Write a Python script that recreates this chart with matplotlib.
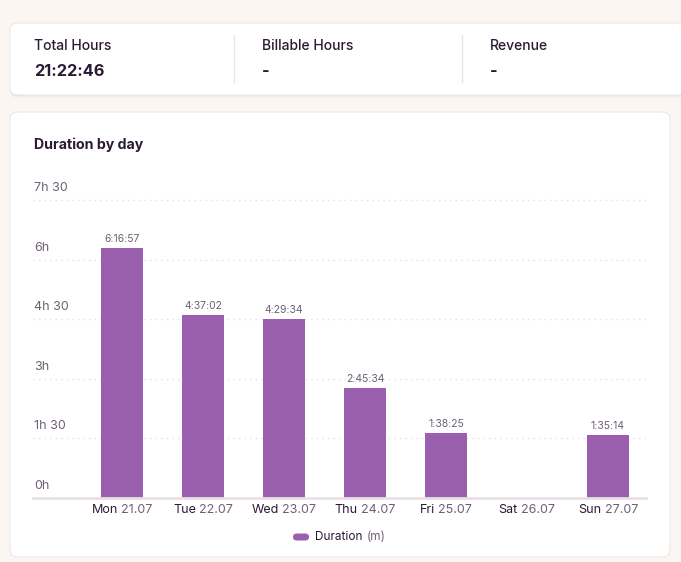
import matplotlib
matplotlib.use("Agg")
import matplotlib.pyplot as plt
from matplotlib.patches import FancyBboxPatch

plt.rcParams['font.family'] = ['Inter', 'DejaVu Sans']

# Data
days = ['Mon', 'Tue', 'Wed', 'Thu', 'Fri', 'Sat', 'Sun']
dates = ['21.07', '22.07', '23.07', '24.07', '25.07', '26.07', '27.07']
durations = ['6:16:57', '4:37:02', '4:29:34', '2:45:34', '1:38:25', '', '1:35:14']
minutes = [376.95, 277.03, 269.57, 165.57, 98.42, 0, 95.23]
ytick_vals = [0, 90, 180, 270, 360, 450]
ytick_labels = ['0h', '1h 30', '3h', '4h 30', '6h', '7h 30']
stat_titles = ['Total Hours', 'Billable Hours', 'Revenue']
stat_values = ['21:22:46', '-', '-']

W, H = 681, 562
bg = '#fcf6f3'
purple = '#9b5fb0'
dark = '#2b1a33'
gray = '#6e6073'

fig = plt.figure(figsize=(W / 100, H / 100), dpi=100, facecolor=bg)


def fx(px):
    return px / W


def fy(py):
    return 1 - py / H


# cards
def card(x0, y0, x1, y1, shadow=True):
    if shadow:
        for i, a in enumerate([0.05, 0.04, 0.03]):
            s = FancyBboxPatch((fx(x0), fy(y1 + 1 + i)), fx(x1 - x0), (y1 - y0) / H,
                               boxstyle='round,pad=0,rounding_size=0.012',
                               transform=fig.transFigure, facecolor='#7a6070',
                               alpha=a, edgecolor='none', zorder=-2)
            fig.patches.append(s)
    p = FancyBboxPatch((fx(x0), fy(y1)), fx(x1 - x0), (y1 - y0) / H,
                       boxstyle='round,pad=0,rounding_size=0.012',
                       transform=fig.transFigure, facecolor='white',
                       edgecolor='#eee6e6', linewidth=0.8, zorder=-1)
    fig.patches.append(p)


card(10, 23, 690, 95)
card(10, 112, 670, 557, shadow=False)

# stats row
for i, (t, v) in enumerate(zip(stat_titles, stat_values)):
    x = 34 + i * 228
    fig.text(fx(x), fy(46), t, fontsize=10, color=dark, fontweight='medium',
             va='center', ha='left')
    fig.text(fx(x), fy(72), v, fontsize=11.8, color=dark, fontweight='bold',
             va='center', ha='left')
for x in (234, 462):
    fig.add_artist(plt.Line2D([fx(x), fx(x)], [fy(35), fy(82)],
                              transform=fig.transFigure, color='#e8e2e4', lw=0.9))

fig.text(fx(34), fy(145), 'Duration by day', fontsize=10.2, color=dark,
         fontweight='bold', va='center', ha='left')

# chart axes
ax = fig.add_axes([fx(33), fy(498), fx(646 - 33), (498 - 200) / H])
ax.set_zorder(5)
ax.set_facecolor('none')
x = list(range(len(days)))
ax.bar(x, minutes, width=0.51, color=purple, zorder=3)
ax.set_xlim(-1.1, 6.47)
ax.set_ylim(0, 450)
for s in ax.spines.values():
    s.set_visible(False)
ax.set_xticks([])
ax.set_yticks([])
for v in ytick_vals[1:]:
    ax.axhline(v, color='#e6e0e6', lw=1, ls=(0, (1, 3)), zorder=1, clip_on=False)
ax.axhline(0, color='#e8e0e5', lw=2, zorder=4, clip_on=False)

for v, lab in zip(ytick_vals, ytick_labels):
    ax.annotate(lab, xy=(0, v), xycoords=('axes fraction', 'data'),
                xytext=(1, 6), textcoords='offset pixels', fontsize=9,
                color=gray, ha='left', va='bottom', annotation_clip=False)

for xi, m, d in zip(x, minutes, durations):
    if d:
        ax.annotate(d, xy=(xi, m), xytext=(0, 4), textcoords='offset pixels',
                    fontsize=7.5, color=gray, ha='center', va='bottom')

# two-tone x tick labels
renderer = fig.canvas.get_renderer()
for xi, day, date in zip(x, days, dates):
    full = ax.text(0, 0, day + ' ' + date, fontsize=9)
    wf = full.get_window_extent(renderer).width
    full.remove()
    ax.annotate(day, xy=(xi, 0), xytext=(-wf / 2, -12), textcoords='offset pixels',
                fontsize=9, color=dark, ha='left', va='center',
                annotation_clip=False)
    ax.annotate(date, xy=(xi, 0), xytext=(wf / 2, -12), textcoords='offset pixels',
                fontsize=9, color=gray, ha='right', va='center',
                annotation_clip=False)

# legend
pill = FancyBboxPatch((fx(293), fy(540.5)), fx(16), 7 / H,
                      boxstyle='round,pad=0,rounding_size=0.006',
                      transform=fig.transFigure, facecolor=purple, edgecolor='none')
fig.patches.append(pill)
fig.text(fx(315), fy(537), 'Duration', fontsize=8.5, color=dark, va='center', ha='left')
fig.text(fx(367), fy(537), '(m)', fontsize=8.5, color=gray, va='center', ha='left')

fig.savefig('out.png', dpi=100, facecolor=bg)
